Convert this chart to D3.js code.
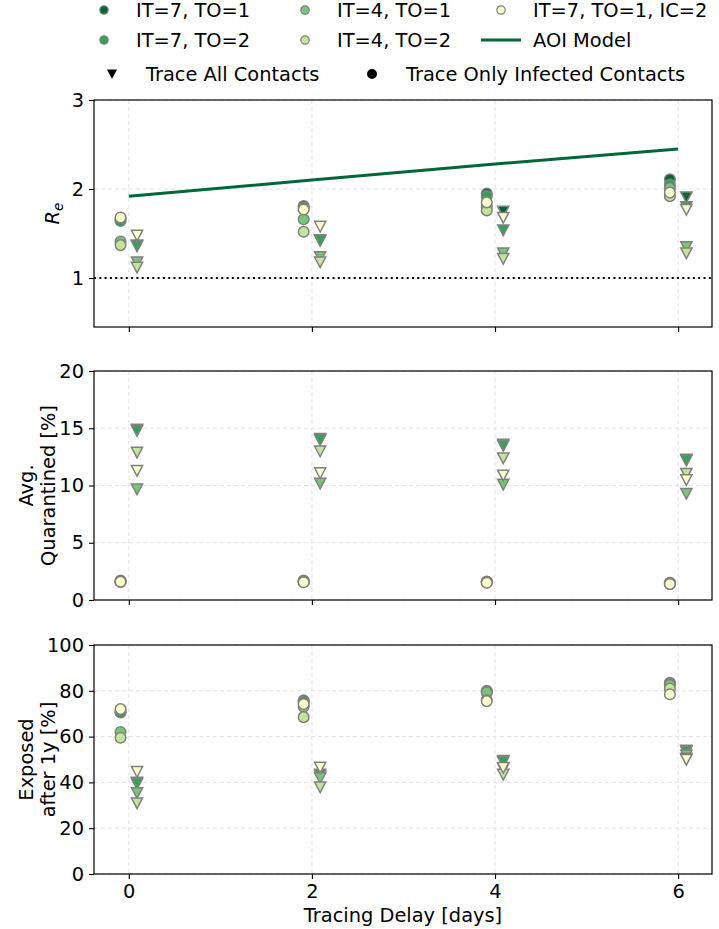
<!DOCTYPE html>
<html><head><meta charset="utf-8">
<script src="https://cdn.jsdelivr.net/npm/d3@7"></script>
<style>body{margin:0;background:#fff}svg{display:block;font-family:"DejaVu Sans",sans-serif}</style>
</head><body><svg id="c" width="719" height="929"></svg>
<script>
const delays = [0, 2, 4, 6];
const seriesNames = ["IT=7, TO=1", "IT=7, TO=2", "IT=4, TO=1", "IT=4, TO=2", "IT=7, TO=1, IC=2"];
const seriesColors = ["#006837", "#31a354", "#78c679", "#c2e699", "#ffffcc"];
const aoiModel = [1.92, 2.10, 2.28, 2.45];

// Re, trace only infected contacts (circles)
const reInfected = [
  [1.66, 1.81, 1.95, 2.11],
  [1.64, 1.79, 1.92, 2.05],
  [1.41, 1.66, 1.80, 2.01],
  [1.37, 1.52, 1.76, 1.92],
  [1.68, 1.77, 1.85, 1.96]
];
// Re, trace all contacts (triangles)
const reAll = [
  [1.37, 1.43, 1.75, 1.91],
  [1.36, 1.42, 1.54, 1.80],
  [1.18, 1.24, 1.28, 1.35],
  [1.12, 1.18, 1.22, 1.28],
  [1.48, 1.58, 1.68, 1.77]
];
const quarInfected = [
  [1.7, 1.7, 1.6, 1.5],
  [1.6, 1.6, 1.6, 1.5],
  [1.6, 1.6, 1.6, 1.4],
  [1.6, 1.6, 1.6, 1.4],
  [1.6, 1.55, 1.5, 1.4]
];
const quarAll = [
  [14.9, 14.1, 13.6, 12.3],
  [14.8, 14.0, 13.5, 12.2],
  [9.7, 10.2, 10.1, 9.3],
  [12.9, 13.0, 12.4, 11.05],
  [11.3, 11.1, 10.9, 10.5]
];
const expInfected = [
  [71.0, 75.8, 80.0, 83.5],
  [70.5, 75.3, 79.6, 83.2],
  [62.0, 73.0, 79.3, 82.5],
  [59.5, 68.5, 76.0, 81.0],
  [72.0, 74.2, 75.5, 78.5]
];
const expAll = [
  [40.0, 43.5, 49.5, 54.0],
  [39.5, 42.8, 49.0, 53.5],
  [35.5, 42.0, 46.0, 52.0],
  [31.0, 38.0, 43.5, 50.5],
  [44.7, 46.6, 46.5, 50.0]
];
const xTicks = [0, 2, 4, 6];
const panels = [
  {top: 100, bottom: 327, domain: [0.45, 3], ticks: [1, 2, 3], circ: reInfected, tri: reAll, label: ["Re"]},
  {top: 371, bottom: 600, domain: [0, 20], ticks: [0, 5, 10, 15, 20], circ: quarInfected, tri: quarAll, label: ["Avg.", "Quarantined [%]"]},
  {top: 645, bottom: 874, domain: [0, 100], ticks: [0, 20, 40, 60, 80, 100], circ: expInfected, tri: expAll, label: ["Exposed", "after 1y [%]"]}
];
const FS = 19.4;
const L = 94, R = 712;
const svg = d3.select("#c");
const x = d3.scaleLinear().domain([-0.38, 6.37]).range([L, R]);
const off = 0.09;
const edge = "#808080";
const triPath = s => `M${-s},${-s*0.9}L${s},${-s*0.9}L0,${s*1.0}Z`;

panels.forEach((p, pi) => {
  const y = d3.scaleLinear().domain(p.domain).range([p.bottom, p.top]);
  const g = svg.append("g");
  g.selectAll(".gx").data(xTicks).join("line")
    .attr("x1", d => x(d)).attr("x2", d => x(d)).attr("y1", p.top).attr("y2", p.bottom)
    .attr("stroke", "#e3e3e3").attr("stroke-width", 1).attr("stroke-dasharray", "4,3");
  g.selectAll(".gy").data(p.ticks).join("line")
    .attr("x1", L).attr("x2", R).attr("y1", d => y(d)).attr("y2", d => y(d))
    .attr("stroke", "#e3e3e3").attr("stroke-width", 1).attr("stroke-dasharray", "4,3");
  if (pi === 0) {
    g.append("line").attr("x1", L).attr("x2", R).attr("y1", y(1)).attr("y2", y(1))
      .attr("stroke", "#000").attr("stroke-width", 2).attr("stroke-dasharray", "2,3.3");
    g.append("path").datum(aoiModel)
      .attr("d", d3.line().x((d, i) => x(delays[i])).y(d => y(d)))
      .attr("fill", "none").attr("stroke", "#006837").attr("stroke-width", 3);
  }
  p.circ.forEach((vals, si) => {
    g.selectAll(null).data(vals).join("circle")
      .attr("cx", (d, i) => x(delays[i] - off)).attr("cy", d => y(d)).attr("r", 5.3)
      .attr("fill", seriesColors[si]).attr("stroke", edge).attr("stroke-width", 1.5);
  });
  p.tri.forEach((vals, si) => {
    g.selectAll(null).data(vals).join("path")
      .attr("transform", (d, i) => `translate(${x(delays[i] + off)},${y(d)})`)
      .attr("d", triPath(5.6))
      .attr("fill", seriesColors[si]).attr("stroke", edge).attr("stroke-width", 1.5);
  });
  const ya = g.append("g").attr("transform", `translate(${L},0)`)
    .call(d3.axisLeft(y).tickValues(p.ticks).tickSize(5).tickPadding(5).tickFormat(d3.format("d")));
  const xa = g.append("g").attr("transform", `translate(0,${p.bottom})`)
    .call(d3.axisBottom(x).tickValues(xTicks).tickSize(5).tickPadding(5).tickFormat(pi === 2 ? d3.format("d") : ""));
  [ya, xa].forEach(a => {
    a.select(".domain").remove();
    a.selectAll("line").attr("stroke", "#000").attr("stroke-width", 1.1);
    a.selectAll("text").attr("font-size", FS).attr("fill", "#000").attr("font-family", "DejaVu Sans");
  });
  g.append("rect").attr("x", L).attr("y", p.top).attr("width", R - L).attr("height", p.bottom - p.top)
    .attr("fill", "none").attr("stroke", "#000").attr("stroke-width", 1.2);
  const cy = (p.top + p.bottom) / 2;
  if (pi === 0) {
    const t = g.append("text").attr("transform", `translate(59,${cy}) rotate(-90)`)
      .attr("text-anchor", "middle").attr("font-size", FS);
    t.append("tspan").attr("font-style", "italic").text("R");
    t.append("tspan").attr("font-style", "italic").attr("font-size", FS * 0.7).attr("dy", 4).text("e");
  } else {
    p.label.forEach((s, k) => {
      g.append("text").attr("transform", `translate(${33 + k * 22},${cy}) rotate(-90)`)
        .attr("text-anchor", "middle").attr("font-size", FS).text(s);
    });
  }
});
svg.append("text").attr("x", (L + R) / 2).attr("y", 922).attr("text-anchor", "middle")
  .attr("font-size", FS).text("Tracing Delay [days]");

// legend
const leg = svg.append("g").attr("font-size", FS);
const legPos = [[104, 10], [104, 40], [305, 10], [305, 40], [501, 10]];
seriesNames.forEach((n, i) => {
  const [lx, ly] = legPos[i];
  leg.append("circle").attr("cx", lx).attr("cy", ly).attr("r", 4.2)
    .attr("fill", seriesColors[i]).attr("stroke", edge).attr("stroke-width", 1.2);
  leg.append("text").attr("x", lx + 32).attr("y", ly + 7).text(n);
});
leg.append("line").attr("x1", 481).attr("x2", 521).attr("y1", 40).attr("y2", 40)
  .attr("stroke", "#006837").attr("stroke-width", 3);
leg.append("text").attr("x", 533).attr("y", 47).text("AOI Model");
leg.append("path").attr("transform", "translate(112,74)").attr("d", triPath(5)).attr("fill", "#000");
leg.append("text").attr("x", 146).attr("y", 81).text("Trace All Contacts");
leg.append("circle").attr("cx", 372).attr("cy", 74).attr("r", 5).attr("fill", "#000");
leg.append("text").attr("x", 406).attr("y", 81).text("Trace Only Infected Contacts");
</script></body></html>
